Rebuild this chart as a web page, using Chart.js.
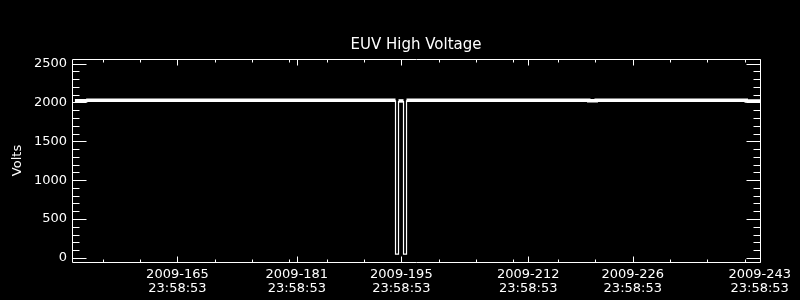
<!DOCTYPE html>
<html>
<head>
<meta charset="utf-8">
<script src="https://cdn.jsdelivr.net/npm/chart.js@4"></script>
<style>
    html, body { margin: 0; padding: 0; background: #000; }
    #wrap { width: 800px; height: 300px; }
</style>
</head>
<body>
<div id="wrap"><canvas id="hvGraph" width="800" height="300"></canvas></div>
<script>
// time axis in fractional day-of-year 2009
const dayOfYear = [152.27, 153.83, 153.9, 170.0, 185.0, 195.216, 195.216, 195.618, 195.618,
    196.288, 196.288, 196.69, 196.69, 210.0, 221.1, 221.1, 222.1, 222.1, 235.0, 242.2, 242.2, 244.04];
const volts = [2022, 2022, 2028, 2028, 2028, 2028, 47, 47, 2020,
    2020, 47, 47, 2028, 2028, 2028, 2022, 2022, 2028, 2028, 2028, 2018, 2018];

const majorTickDays = [165.9992, 181.9992, 195.9992, 212.9992, 226.9992, 243.9992];
const majorTickDates = ["2009-165", "2009-181", "2009-195", "2009-212", "2009-226", "2009-243"];
const majorTickTime = "23:58:53";
const minorTickDays = [156, 161, 166, 171, 176, 181, 186, 191, 196, 201, 206, 211, 217, 222, 227, 232, 237, 242];

const voltTicks = [0, 500, 1000, 1500, 2000, 2500];
const voltMinorStep = 100;

const xMin = 151.88, xMax = 244.04;
const yMin = -54, yMax = 2560;

const fontFamily = "'DejaVu Sans', sans-serif";

// IDL style box with inward ticks on all four sides
const boxTicks = {
    id: "boxTicks",
    afterDraw(chart) {
        const { ctx, chartArea: a, scales } = chart;
        const xs = scales.x, ys = scales.y;
        ctx.save();
        ctx.strokeStyle = "#fff";
        ctx.lineWidth = 1;
        ctx.beginPath();
        ctx.rect(a.left + 0.5, a.top + 0.5, a.right - a.left, a.bottom - a.top);

        const xTick = (d, len) => {
            const px = Math.round(xs.getPixelForValue(d)) + 0.5;
            ctx.moveTo(px, a.bottom + 0.5);
            ctx.lineTo(px, a.bottom + 0.5 - len);
            ctx.moveTo(px, a.top + 0.5);
            ctx.lineTo(px, a.top + 0.5 + len);
        };
        minorTickDays.forEach(d => xTick(d, 3));
        majorTickDays.forEach(d => xTick(d, 6));

        const yTick = (v, len) => {
            const py = Math.round(ys.getPixelForValue(v)) + 0.5;
            ctx.moveTo(a.left + 0.5, py);
            ctx.lineTo(a.left + 0.5 + len, py);
            ctx.moveTo(a.right + 0.5, py);
            ctx.lineTo(a.right + 0.5 - len, py);
        };
        for (let v = 0; v <= yMax; v += voltMinorStep) {
            if (voltTicks.includes(v)) yTick(v, 14);
            else yTick(v, 7);
        }
        ctx.stroke();
        ctx.restore();
    }
};

const canvas = document.getElementById("hvGraph");
const hvGraph = new Chart(canvas, {
    type: "line",
    data: {
        datasets: [
            {
                label: "EUV High Voltage",
                data: dayOfYear.map((d, i) => ({ x: d, y: volts[i] })),
                borderColor: "#fff",
                borderWidth: 1,
                pointRadius: 0,
                tension: 0,
                segment: {
                    borderWidth: ctx => (ctx.p0.parsed.y > 1000 && ctx.p1.parsed.y > 1000) ? 3.5 : 1.2
                }
            }
        ]
    },
    options: {
        responsive: false,
        animation: false,
        layout: { padding: { left: 0, right: 40, top: 0, bottom: 0 } },
        plugins: {
            legend: { display: false },
            tooltip: { enabled: false },
            title: {
                display: true,
                fullSize: false,
                text: "EUV High Voltage",
                color: "#fff",
                font: { family: fontFamily, size: 15, weight: "normal", lineHeight: "16px" },
                padding: { top: 37, bottom: 6 }
            }
        },
        scales: {
            x: {
                type: "linear",
                min: xMin,
                max: xMax,
                grid: { display: false, drawTicks: false },
                border: { display: false },
                afterBuildTicks: scale => {
                    scale.ticks = majorTickDays.map(v => ({ value: v }));
                },
                afterFit: scale => { scale.height = 38; },
                ticks: {
                    color: "#fff",
                    autoSkip: false,
                    maxRotation: 0,
                    padding: 6,
                    font: { family: fontFamily, size: 13, lineHeight: "14px" },
                    callback: (value, i) => [majorTickDates[i], majorTickTime]
                }
            },
            y: {
                min: yMin,
                max: yMax,
                grid: { display: false, drawTicks: false },
                border: { display: false },
                afterBuildTicks: scale => {
                    scale.ticks = voltTicks.map(v => ({ value: v }));
                },
                afterFit: scale => { scale.width = 72; },
                ticks: {
                    color: "#fff",
                    padding: 5,
                    font: { family: fontFamily, size: 13 },
                    callback: value => String(value)
                },
                title: {
                    display: true,
                    text: "Volts",
                    color: "#fff",
                    font: { family: fontFamily, size: 13 },
                    padding: { top: 10, bottom: 0 }
                }
            }
        }
    },
    plugins: [boxTicks]
});
</script>
</body>
</html>
